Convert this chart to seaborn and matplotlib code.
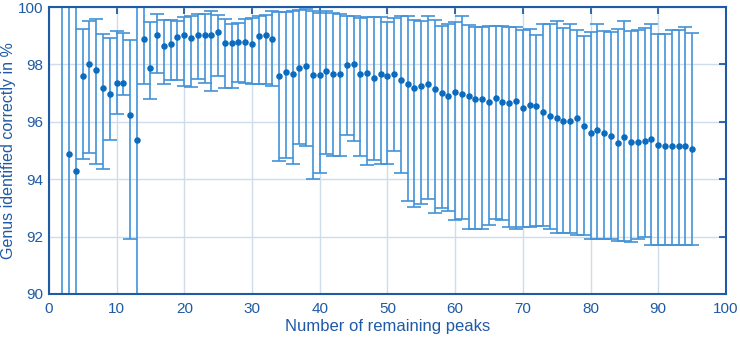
import numpy as np
import pandas as pd
import seaborn as sns
import matplotlib.pyplot as plt

# peaks remaining
peaks = list(range(2, 96))

# mean accuracy (%)
mean_acc = [
    88.0, 94.88, 94.3, 97.61, 98.0, 97.82, 97.19, 96.97, 97.34, 97.37,   # 2-11
    96.23, 95.36, 98.88, 97.88, 99.03, 98.66, 98.7, 98.95, 99.03, 98.93,  # 12-21
    99.03, 99.03, 99.03, 99.12, 98.76, 98.76, 98.79, 98.77, 98.7, 98.99,  # 22-31
    99.04, 98.88, 97.61, 97.74, 97.67, 97.88, 97.96, 97.62, 97.62, 97.79,  # 32-41
    97.68, 97.66, 97.98, 98.02, 97.68, 97.72, 97.54, 97.66, 97.6, 97.68,  # 42-51
    97.45, 97.32, 97.18, 97.25, 97.31, 97.16, 97.01, 96.91, 97.04, 96.97,  # 52-61
    96.89, 96.78, 96.79, 96.7, 96.84, 96.69, 96.64, 96.73, 96.49, 96.6,   # 62-71
    96.55, 96.34, 96.21, 96.14, 96.04, 96.03, 96.12, 95.85, 95.62, 95.72,  # 72-81
    95.61, 95.49, 95.25, 95.48, 95.29, 95.29, 95.32, 95.39, 95.18, 95.17,  # 82-91
    95.17, 95.16, 95.16, 95.05,                                           # 92-95
]

# upper end of the error bar
upper = [
    100.0, 100.0, 100.0, 99.25, 99.51, 99.59, 99.06, 98.91, 99.15, 99.1,
    98.85, 100.0, 100.0, 99.48, 99.75, 99.54, 99.56, 99.51, 99.65, 99.68,
    99.75, 99.77, 99.85, 99.71, 99.57, 99.42, 99.44, 99.6, 99.63, 99.7,
    99.71, 99.86, 99.82, 99.84, 99.88, 99.9, 99.93, 99.85, 99.81, 99.86,
    99.79, 99.75, 99.68, 99.68, 99.63, 99.65, 99.65, 99.65, 99.49, 99.63,
    99.68, 99.7, 99.54, 99.51, 99.7, 99.54, 99.34, 99.42, 99.48, 99.69,
    99.37, 99.3, 99.3, 99.33, 99.35, 99.35, 99.3, 99.3, 99.19, 99.24,
    99.03, 99.42, 99.42, 99.5, 99.26, 99.42, 99.21, 99.01, 99.13, 99.42,
    99.17, 99.14, 99.25, 99.51, 99.16, 99.19, 99.26, 99.42, 99.07, 99.07,
    99.21, 99.21, 99.3, 99.1,
]

# lower end of the error bar
lower = [
    80.0, 80.0, 80.0, 94.71, 94.91, 94.54, 94.37, 95.35, 96.27, 96.92,
    91.9, 80.0, 97.31, 96.8, 97.7, 97.31, 97.47, 97.45, 97.24, 97.2,
    97.5, 97.36, 97.08, 97.59, 97.17, 97.17, 97.39, 97.36, 97.33, 97.33,
    97.31, 97.26, 94.64, 94.75, 94.53, 95.23, 95.16, 93.99, 94.2, 94.87,
    94.8, 94.8, 95.54, 95.34, 94.82, 94.51, 94.66, 94.53, 94.53, 94.98,
    94.2, 93.25, 93.04, 93.14, 93.32, 92.81, 92.99, 92.9, 92.58, 92.62,
    92.28, 92.28, 92.28, 92.41, 92.62, 92.58, 92.35, 92.26, 92.35, 92.33,
    92.38, 92.38, 92.26, 92.12, 92.14, 92.12, 92.07, 92.05, 91.93, 91.93,
    91.91, 91.91, 91.86, 91.86, 91.82, 91.91, 91.98, 91.7, 91.7, 91.7,
    91.72, 91.72, 91.72, 91.7,
]

df = pd.DataFrame({"peaks": peaks, "acc": mean_acc, "lo": lower, "hi": upper})

axis_blue = "#1f5aa6"
bar_blue = "#4393d8"
dot_blue = "#0b6bbf"

sns.set_style("white")
plt.rcParams['font.family'] = ['Liberation Sans', 'DejaVu Sans']
plt.rcParams['font.size'] = 11

fig = plt.figure(figsize=(7.4, 3.39), dpi=100)
ax = fig.add_axes([0.066, 0.133, 0.915, 0.846])

err = [df["acc"] - df["lo"], df["hi"] - df["acc"]]
ax.errorbar(df["peaks"], df["acc"], yerr=err, fmt="none", ecolor=bar_blue,
            elinewidth=1.2, capsize=4.7, capthick=1.2, zorder=2)
sns.scatterplot(data=df, x="peaks", y="acc", ax=ax, color=dot_blue, s=22,
                edgecolor=dot_blue, linewidth=0, zorder=3)

ax.set_xlim(0, 100)
ax.set_ylim(90, 100)
ax.set_xticks(range(0, 101, 10))
ax.set_yticks(range(90, 101, 2))
ax.grid(True, color="#cfdcec", linewidth=1.0, zorder=0)
ax.set_axisbelow(True)

for s in ax.spines.values():
    s.set_color(axis_blue)
    s.set_linewidth(1.5)
ax.tick_params(direction="in", length=5, width=1.3, colors=axis_blue,
               top=True, right=True, labelsize=11, labelcolor=axis_blue)
ax.tick_params(axis="x", pad=6)
ax.tick_params(axis="y", pad=4)

ax.set_xlabel("Number of remaining peaks", color=axis_blue, fontsize=12, labelpad=2)
ax.set_ylabel("Genus identified correctly in %", color=axis_blue, fontsize=11.5, labelpad=1)

fig.savefig("out.png", dpi=100)
